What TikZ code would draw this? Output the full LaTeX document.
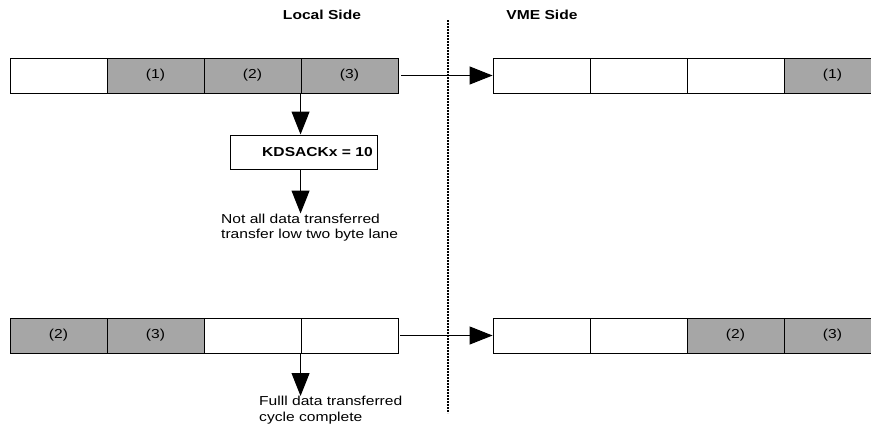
\documentclass[tikz,border=0pt]{standalone}
\usepackage{fontspec}
\newfontfamily\dfont[FakeStretch=1.2]{Liberation Sans}
\usetikzlibrary{arrows.meta}
\definecolor{cellgray}{RGB}{166,166,166}
\begin{document}
\begin{tikzpicture}[x=1pt,y=-1pt,
  cell/.style={draw=black,line width=0.9pt,minimum width=97pt,minimum height=35pt,inner sep=0pt,font=\dfont\fontsize{13}{15}\selectfont},
  shaded/.style={cell,fill=cellgray},
  plain/.style={cell,fill=white},
  conn/.style={line width=1pt,-{Triangle[length=23pt,width=18pt]}},
  title/.style={font=\dfont\bfseries\fontsize{13}{15}\selectfont,inner sep=0pt},
  note/.style={font=\dfont\fontsize{13}{15.5}\selectfont,align=left,inner sep=0pt,anchor=north west},
  ackbox/.style={draw=black,line width=1pt,fill=white,minimum width=147pt,minimum height=34pt,inner sep=0pt,font=\dfont\bfseries\fontsize{13}{15}\selectfont}
]
\clip (0,0) rectangle (871,429);
\fill[white] (0,0) rectangle (871,429);

\node[title] (tl) at (322,15) {Local Side};
\node[title] (tv) at (542,15) {VME Side};

\coordinate (dtop) at (448,20);
\coordinate (dbot) at (448,413);
\draw[line width=1.6pt,dash pattern=on 1.6pt off 1.4pt] (dtop) -- (dbot);

% top row local
\node[plain]  (L1) at (58.5,75.5) {};
\node[shaded] (L2) at (155.5,75.5) {(1)};
\node[shaded] (L3) at (252.5,75.5) {(2)};
\node[shaded] (L4) at (349.5,75.5) {(3)};
% top row VME
\node[plain]  (V1) at (541.5,75.5) {};
\node[plain]  (V2) at (638.5,75.5) {};
\node[plain]  (V3) at (735.5,75.5) {};
\node[shaded] (V4) at (832.5,75.5) {(1)};

% bottom row local
\node[shaded] (B1) at (58.5,335.5) {(2)};
\node[shaded] (B2) at (155.5,335.5) {(3)};
\node[plain]  (B3) at (252.5,335.5) {};
\node[plain]  (B4) at (349.5,335.5) {};
% bottom row VME
\node[plain]  (W1) at (541.5,335.5) {};
\node[plain]  (W2) at (638.5,335.5) {};
\node[shaded] (W3) at (735.5,335.5) {(2)};
\node[shaded] (W4) at (832.5,335.5) {(3)};

\node[ackbox] (kd) at (303.5,152) {\hspace*{28pt}KDSACKx = 10};

\node[note] (n1) at (221,213.5) {Not all data transferred\\transfer low two byte lane};
\node[note] (n2) at (259,396) {Fulll data transferred\\cycle complete};

\draw[conn,shorten <=3pt] (L4.east) -- (V1.west);
\draw[conn,shorten <=2pt] (B4.east) -- (W1.west);
\draw[conn] (L4.south west) -- (L4.south west |- kd.north);
\draw[conn] (kd.south -| L4.south west) -- (L4.south west |- n1.north);
\draw[conn] (B4.south west) -- (B4.south west |- n2.north);
\end{tikzpicture}
\end{document}
